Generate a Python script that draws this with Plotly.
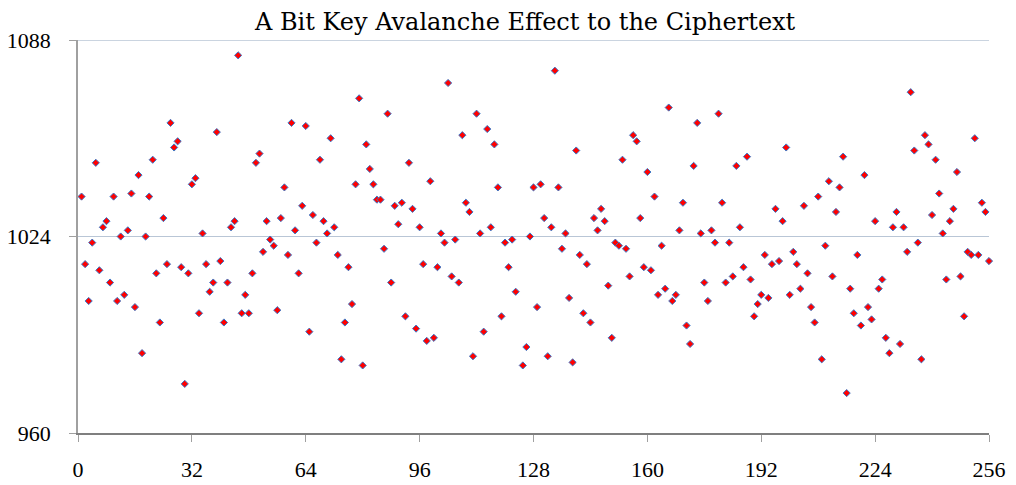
import plotly.graph_objects as go

title_text = "A Bit Key Avalanche Effect to the Ciphertext"

# bit positions 1..256
bit_index = list(range(1, 257))

y_block1 = [1037, 1015, 1003, 1022, 1048, 1013, 1027, 1029, 1009, 1037, 1003, 1024, 1005, 1026, 1038, 1001,
            1044, 986, 1024, 1037, 1049, 1012, 996, 1030, 1015, 1061, 1053, 1055, 1014, 976, 1012, 1041]
y_block2 = [1043, 999, 1025, 1015, 1006, 1009, 1058, 1016, 996, 1009, 1027, 1029, 1083, 999, 1005, 999,
            1012, 1048, 1051, 1019, 1029, 1023, 1021, 1000, 1030, 1040, 1018, 1061, 1026, 1012, 1034, 1060]
y_block3 = [993, 1031, 1022, 1049, 1029, 1025, 1056, 1027, 1018, 984, 996, 1014, 1002, 1041, 1069, 982,
            1054, 1046, 1041, 1036, 1036, 1020, 1064, 1009, 1034, 1028, 1035, 998, 1048, 1033, 994, 1027]
y_block4 = [1015, 990, 1042, 991, 1014, 1025, 1022, 1074, 1011, 1023, 1009, 1057, 1035, 1032, 985, 1064,
            1025, 993, 1059, 1027, 1054, 1040, 998, 1022, 1014, 1023, 1006, None, 982, 988, 1024, 1040]
y_block5 = [1001, 1041, 1030, 985, 1027, 1078, 1040, 1020, 1025, 1004, 983, 1052, 1018, 999, 1015, 996,
            1030, 1026, 1033, 1029, 1008, 991, 1022, 1021, 1049, 1020, 1011, 1057, 1055, 1030, 1014, 1045]
y_block6 = [1013, 1037, 1005, 1021, 1007, 1066, 1003, 1005, 1026, 1035, 995, 989, 1047, 1061, 1025, 1009,
            1003, 1026, 1022, 1064, 1035, 1009, 1022, 1011, 1047, 1027, 1014, 1050, 1010, 998, 1002, 1005]
y_block7 = [1018, 1004, 1015, 1033, 1016, 1029, 1053, 1005, 1019, 1015, 1007, 1034, 1012, 1001, 996, 1037,
            984, 1021, 1042, 1011, 1032, 1040, 1050, 973, 1007, 999, 1018, 995, 1044, 1001, 997, 1029]
y_block8 = [1007, 1010, 991, 986, 1027, 1032, 989, 1027, 1019, 1071, 1052, 1022, 984, 1057, 1054, 1031,
            1049, 1038, 1025, 1010, 1029, 1033, 1045, 1011, 998, 1019, 1018, 1056, 1018, 1035, 1032, 1016]

ciphertext_changes = (y_block1 + y_block2 + y_block3 + y_block4 +
                      y_block5 + y_block6 + y_block7 + y_block8)

x_ticks = [0, 32, 64, 96, 128, 160, 192, 224, 256]
y_ticks = [960, 1024, 1088]

tick_font = "Liberation Serif, serif"
title_font = "DejaVu Serif, serif"
grid_color = "#b9c6d6"

fig = go.Figure()
fig.add_trace(go.Scatter(
    x=bit_index, y=ciphertext_changes, mode="markers",
    marker=dict(symbol="diamond", size=5.5, color="#ff0000",
                line=dict(color="#3a78c8", width=1)),
    showlegend=False, cliponaxis=False,
))

# top gridline at the axis maximum
fig.add_shape(type="line", xref="paper", yref="y", x0=0, x1=1,
              y0=y_ticks[-1], y1=y_ticks[-1],
              line=dict(color=grid_color, width=1.5), layer="below")

fig.update_layout(
    width=1008, height=477,
    margin=dict(l=70, r=27, t=32, b=52),
    paper_bgcolor="white", plot_bgcolor="white",
    title=dict(text=title_text, x=0.513, xanchor="center", xref="container",
               y=0.99, yanchor="top",
               font=dict(family=title_font, size=24, color="black")),
    font=dict(family=tick_font, size=22, color="black"),
)
fig.update_xaxes(
    range=[0, 256], tickvals=x_ticks, ticktext=[str(v) for v in x_ticks],
    showgrid=False, zeroline=False, automargin=False,
    showline=True, linecolor="#7f7f7f", linewidth=1.5,
    ticks="outside", ticklen=7, tickcolor="#a0a0a0", tickwidth=1,
    ticklabelstandoff=9,
    tickfont=dict(family=tick_font, size=22, color="black"),
)
fig.update_yaxes(
    range=[960, 1088], tickvals=y_ticks, ticktext=[str(v) for v in y_ticks],
    showgrid=True, gridcolor=grid_color, gridwidth=1, zeroline=False, automargin=False,
    showline=True, linecolor="#a0a0a0", linewidth=1.5,
    ticks="outside", ticklen=7, tickcolor="#a0a0a0", tickwidth=1,
    ticklabelstandoff=14,
    tickfont=dict(family=tick_font, size=22, color="black"),
)

fig.write_html("out.html")
